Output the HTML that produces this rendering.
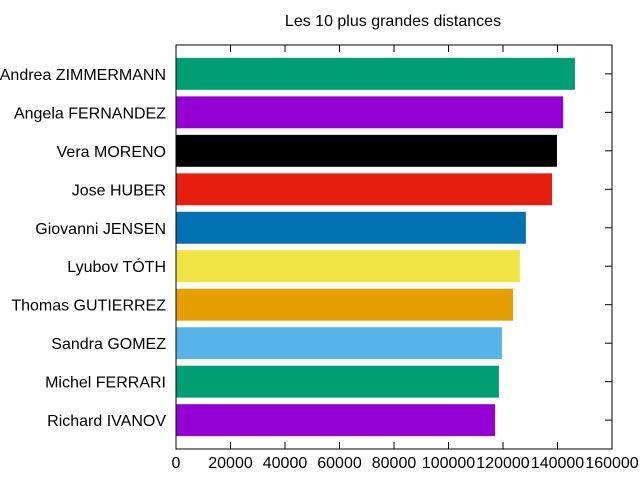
<!DOCTYPE html>
<html><head><meta charset="utf-8"><style>
body{margin:0;background:#fff;}
svg{display:block;font-family:"Liberation Sans",sans-serif;}
</style></head><body>
<svg id="chart" width="640" height="480">
<text x="393" y="26" text-anchor="middle" font-size="16">Les 10 plus grandes distances</text>
<g id="bars"></g>
<g id="axes"></g>
</svg>
<script>
const names = ["Andrea ZIMMERMANN","Angela FERNANDEZ","Vera MORENO","Jose HUBER","Giovanni JENSEN","Lyubov TÓTH","Thomas GUTIERREZ","Sandra GOMEZ","Michel FERRARI","Richard IVANOV"];
const distances = [146400,142100,139800,138000,128400,126200,123700,119600,118500,117100];
const colors = ["#009e73","#9400d3","#000000","#e51e10","#0072b2","#f0e442","#e69f00","#56b4e9","#009e73","#9400d3"];
const xTicks = [0,20000,40000,60000,80000,100000,120000,140000,160000];
const L=176,R=612,T=45,B=449,XMAX=160000;
const x=v=>L+v/XMAX*(R-L);
const step=(B-T)/10.5;
const y=i=>T+(i+0.75)*step;
const NS="http://www.w3.org/2000/svg";
const bars=document.getElementById('bars'), axes=document.getElementById('axes');
function mk(tag,attrs,parent){const e=document.createElementNS(NS,tag);for(const k in attrs)e.setAttribute(k,attrs[k]);parent.appendChild(e);return e;}
names.forEach((n,i)=>{
  const h=step*0.83;
  const r=mk('rect',{x:L,y:y(i)-h/2,width:x(distances[i])-L,height:h,fill:colors[i]},bars);
  
  
  const t=mk('text',{x:166,y:y(i)+6,'text-anchor':'end','font-size':'16'},axes);
  t.textContent=n;
  
  
  const tk=mk('line',{x1:R,x2:R-7,y1:y(i),y2:y(i),stroke:'#000'},axes);
  
  
});
xTicks.forEach(v=>{
  const a=mk('line',{x1:x(v),x2:x(v),y1:B,y2:B-7,stroke:'#000'},axes);
  
  
  const b=mk('line',{x1:x(v),x2:x(v),y1:T,y2:T+7,stroke:'#000'},axes);
  
  
  const t=mk('text',{x:x(v),y:B+19,'text-anchor':'middle','font-size':'16'},axes);
  t.textContent=v;
  
  
});
const f=mk('rect',{x:L,y:T,width:R-L,height:B-T,fill:'none',stroke:'#000','stroke-width':1},axes);


</script>
</body></html>
